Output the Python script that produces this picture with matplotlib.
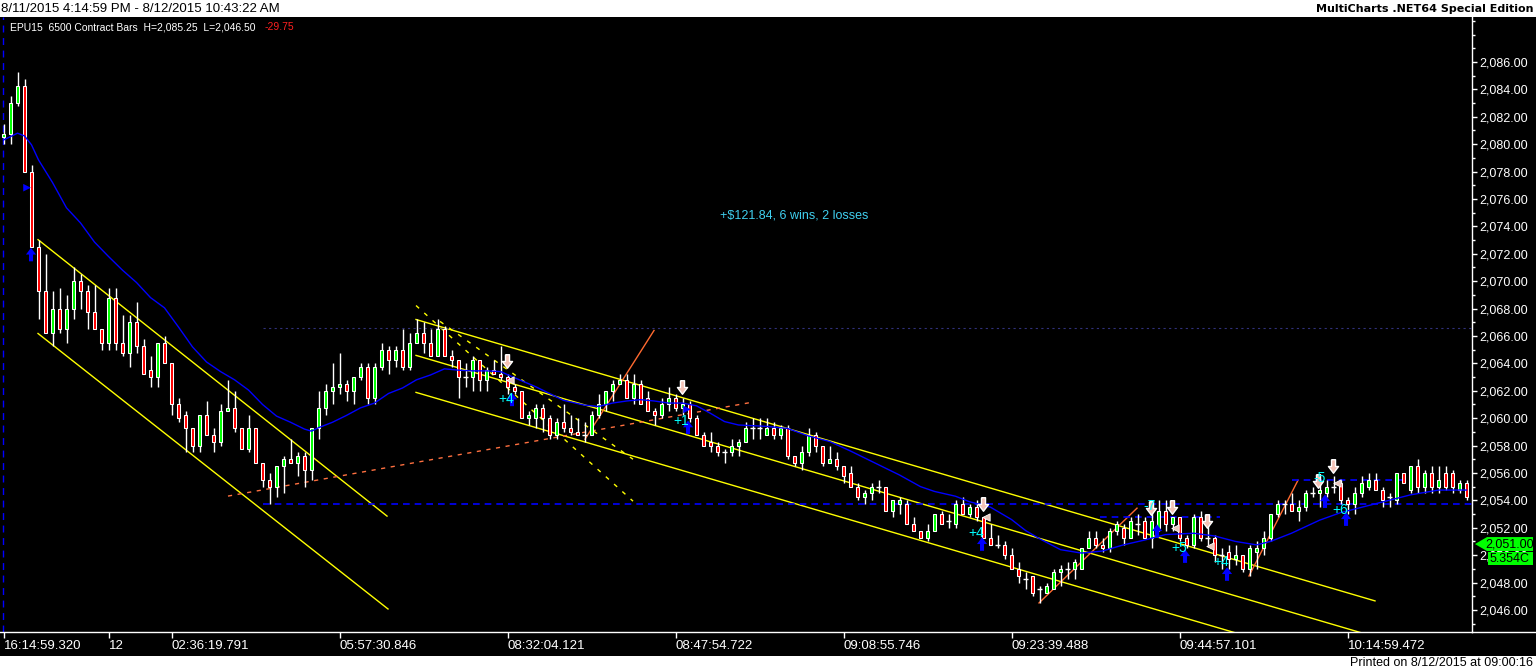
import numpy as np
import matplotlib
matplotlib.use("Agg")
import matplotlib.pyplot as plt
from matplotlib.path import Path
from matplotlib.patches import Polygon
from matplotlib.lines import Line2D
from matplotlib.ticker import FuncFormatter, MultipleLocator
from matplotlib.transforms import blended_transform_factory

plt.rcParams['font.family'] = ['Liberation Sans', 'DejaVu Sans']

# ---- bar data (EPU15, 6500 contract bars) ----
opens = [
    2080.5, 2080.75, 2083.0, 2084.25, 2078.0, 2072.5, 2069.25, 2066.25, 2068.0, 2066.5,
    2068.0, 2070.0, 2069.25, 2067.75, 2066.5, 2065.5, 2068.75, 2065.5, 2064.75, 2067.0,
    2065.25, 2063.5, 2063.0, 2065.5, 2064.0, 2061.0, 2060.25, 2059.25, 2058.0, 2060.25,
    2058.75, 2058.25, 2060.5, 2060.75, 2059.25, 2057.75, 2059.25, 2056.75, 2055.5, 2055.0,
    2056.5, 2057.0, 2056.75, 2057.25, 2056.25, 2059.25, 2060.75, 2062.0, 2062.25, 2062.5,
    2062.0, 2063.0, 2063.75, 2061.5, 2063.75, 2065.0, 2064.25, 2065.0, 2063.75, 2065.5,
    2066.25, 2065.5, 2064.5, 2066.5, 2064.5, 2064.25, 2063.0, 2063.0, 2064.25, 2062.75,
    2063.5, 2063.25, 2063.0, 2062.25, 2062.0, 2060.0, 2060.0, 2060.75, 2060.0, 2058.75,
    2059.75, 2059.25, 2059.0, 2058.75, 2058.75, 2060.25, 2061.0, 2062.0, 2062.5, 2062.75,
    2061.5, 2062.5, 2061.5, 2060.5, 2060.25, 2061.0, 2061.5, 2060.75, 2061.0, 2060.0,
    2058.75, 2058.25, 2058.0, 2057.5, 2057.5, 2058.0, 2058.25, 2059.25, 2059.25, 2058.75,
    2059.25, 2058.75, 2059.25, 2057.25, 2056.75, 2057.5, 2058.75, 2058.0, 2056.75, 2057.0,
    2056.5, 2056.0, 2055.0, 2054.25, 2054.5, 2055.0, 2055.0, 2053.25, 2053.75, 2053.75,
    2052.25, 2051.75, 2051.25, 2051.75, 2053.0, 2052.5, 2052.25, 2053.75, 2053.0, 2053.5,
    2052.75, 2051.25, 2050.75, 2050.75, 2050.0, 2049.0, 2048.25, 2048.5, 2047.5, 2047.25,
    2047.5, 2048.75, 2049.0, 2049.0, 2049.0, 2050.5, 2051.25, 2050.75, 2050.5, 2051.75,
    2052.0, 2051.25, 2052.25, 2052.5, 2051.25, 2052.0, 2053.25, 2052.25, 2052.75, 2051.25,
    2050.75, 2052.75, 2051.25, 2051.25, 2050.0, 2050.25, 2049.75, 2050.0, 2049.0, 2050.25,
    2050.5, 2051.25, 2053.0, 2053.75, 2053.75, 2053.25, 2053.5, 2054.5, 2054.5, 2054.5,
    2055.0, 2055.25, 2054.0, 2053.75, 2054.5, 2055.0, 2055.5, 2054.75, 2054.25, 2054.0,
    2056.0, 2054.75, 2056.5, 2055.0, 2056.0, 2055.0, 2056.0, 2056.0, 2054.75, 2055.25,
]
highs = [
    2081.5, 2083.5, 2085.25, 2084.75, 2078.5, 2073.0, 2072.0, 2069.25, 2069.5, 2069.0,
    2071.0, 2070.5, 2069.75, 2069.75, 2066.5, 2069.5, 2069.5, 2067.5, 2067.5, 2068.5,
    2065.75, 2064.5, 2065.5, 2066.0, 2064.0, 2061.5, 2060.5, 2059.25, 2060.25, 2061.25,
    2059.25, 2061.0, 2062.75, 2062.0, 2059.25, 2060.25, 2059.25, 2056.75, 2056.0, 2056.5,
    2057.25, 2058.5, 2057.5, 2057.5, 2059.25, 2062.0, 2062.5, 2064.0, 2064.75, 2062.75,
    2063.0, 2064.0, 2064.0, 2064.0, 2065.5, 2065.25, 2065.25, 2066.5, 2066.25, 2067.25,
    2067.0, 2066.5, 2067.25, 2066.75, 2065.0, 2064.25, 2064.0, 2064.5, 2064.25, 2063.75,
    2064.25, 2065.25, 2063.25, 2062.5, 2062.0, 2060.5, 2061.0, 2061.0, 2060.25, 2060.0,
    2061.0, 2060.25, 2060.0, 2059.75, 2060.5, 2061.75, 2062.0, 2062.75, 2063.25, 2063.25,
    2063.25, 2062.75, 2062.0, 2060.75, 2061.5, 2062.25, 2061.75, 2061.5, 2061.25, 2060.25,
    2059.0, 2059.0, 2058.25, 2057.75, 2058.5, 2058.5, 2059.75, 2060.0, 2060.0, 2060.0,
    2059.75, 2059.5, 2059.5, 2057.25, 2058.0, 2059.25, 2059.0, 2058.0, 2058.0, 2057.5,
    2056.5, 2056.5, 2055.25, 2054.75, 2055.25, 2055.5, 2055.0, 2054.0, 2054.25, 2054.0,
    2052.75, 2051.75, 2052.25, 2053.0, 2053.25, 2053.0, 2054.0, 2054.25, 2053.75, 2054.0,
    2052.75, 2052.25, 2051.5, 2051.0, 2050.5, 2049.5, 2048.75, 2048.5, 2047.75, 2048.0,
    2049.0, 2049.25, 2049.5, 2049.75, 2050.5, 2051.75, 2051.75, 2051.25, 2052.0, 2052.5,
    2052.25, 2052.75, 2053.0, 2052.75, 2053.25, 2054.0, 2054.0, 2052.75, 2052.75, 2051.5,
    2053.0, 2053.25, 2052.75, 2051.5, 2050.5, 2050.75, 2050.75, 2050.0, 2050.75, 2051.0,
    2051.75, 2053.0, 2054.0, 2054.0, 2054.5, 2054.0, 2054.75, 2055.0, 2055.25, 2055.5,
    2055.75, 2055.5, 2054.25, 2055.0, 2055.75, 2056.0, 2056.0, 2055.0, 2054.5, 2056.0,
    2056.0, 2056.5, 2057.0, 2056.25, 2056.5, 2056.5, 2056.5, 2056.25, 2055.5, 2055.5,
]
lows = [
    2080.0, 2080.0, 2082.75, 2078.0, 2072.5, 2067.25, 2066.25, 2065.25, 2066.25, 2065.5,
    2067.25, 2068.0, 2066.5, 2066.5, 2065.0, 2065.0, 2065.0, 2064.5, 2063.75, 2064.75,
    2063.25, 2062.25, 2062.25, 2064.0, 2060.25, 2059.75, 2057.5, 2057.5, 2057.5, 2058.75,
    2057.5, 2058.0, 2060.5, 2059.0, 2057.75, 2057.5, 2056.75, 2055.0, 2053.75, 2054.25,
    2054.5, 2056.75, 2055.75, 2055.0, 2055.5, 2058.5, 2060.25, 2061.0, 2061.75, 2061.25,
    2061.0, 2062.75, 2061.0, 2061.0, 2063.5, 2063.25, 2063.75, 2063.5, 2063.5, 2065.5,
    2064.75, 2064.5, 2064.5, 2064.5, 2063.75, 2061.5, 2062.25, 2062.0, 2062.0, 2062.0,
    2063.25, 2062.75, 2061.75, 2061.75, 2060.0, 2059.5, 2059.25, 2059.0, 2058.5, 2058.5,
    2059.0, 2058.75, 2058.75, 2058.25, 2058.75, 2060.0, 2060.5, 2061.25, 2062.5, 2061.5,
    2061.0, 2061.0, 2060.5, 2059.5, 2060.0, 2060.5, 2060.5, 2060.25, 2059.75, 2058.75,
    2058.0, 2057.5, 2057.25, 2056.75, 2057.25, 2057.25, 2058.25, 2058.5, 2058.5, 2058.75,
    2058.5, 2058.5, 2057.0, 2056.5, 2056.25, 2057.25, 2057.5, 2056.5, 2056.75, 2056.25,
    2055.25, 2055.0, 2054.0, 2053.75, 2054.0, 2054.5, 2053.25, 2052.75, 2053.0, 2052.25,
    2051.75, 2051.25, 2051.0, 2051.75, 2052.25, 2052.0, 2052.0, 2053.0, 2052.75, 2052.5,
    2051.25, 2050.75, 2050.5, 2049.75, 2049.0, 2048.0, 2047.5, 2047.0, 2046.5, 2047.25,
    2047.5, 2047.75, 2048.25, 2048.25, 2049.0, 2050.5, 2050.5, 2050.25, 2050.25, 2051.5,
    2050.75, 2051.25, 2051.5, 2051.25, 2050.5, 2051.75, 2051.75, 2051.75, 2051.0, 2050.5,
    2050.5, 2051.0, 2050.75, 2049.5, 2049.0, 2049.0, 2049.25, 2048.75, 2048.5, 2049.0,
    2050.0, 2051.0, 2052.75, 2053.0, 2053.25, 2052.5, 2053.25, 2054.25, 2053.5, 2054.25,
    2054.5, 2053.75, 2053.0, 2053.0, 2054.25, 2054.75, 2054.75, 2053.5, 2053.5, 2053.75,
    2055.25, 2054.5, 2054.5, 2054.5, 2054.5, 2054.5, 2054.75, 2054.5, 2054.5, 2054.0,
]
closes = [
    2080.75, 2083.0, 2084.25, 2078.0, 2072.5, 2069.25, 2066.25, 2068.0, 2066.5, 2068.0,
    2070.0, 2069.25, 2067.75, 2066.5, 2065.5, 2068.75, 2065.5, 2064.75, 2067.0, 2065.25,
    2063.25, 2063.0, 2065.5, 2064.0, 2061.0, 2060.0, 2059.25, 2058.0, 2060.25, 2058.75,
    2058.25, 2060.5, 2060.75, 2059.25, 2057.75, 2059.25, 2056.75, 2055.5, 2055.0, 2056.5,
    2057.0, 2056.75, 2057.25, 2056.25, 2059.25, 2060.75, 2062.0, 2062.25, 2062.5, 2062.0,
    2063.0, 2063.75, 2061.5, 2063.75, 2065.0, 2064.25, 2065.0, 2063.75, 2065.5, 2066.25,
    2065.5, 2064.5, 2066.5, 2064.5, 2064.25, 2063.0, 2063.0, 2064.25, 2062.75, 2063.5,
    2063.25, 2063.0, 2062.25, 2062.0, 2060.0, 2060.25, 2060.75, 2060.0, 2058.75, 2059.75,
    2059.25, 2059.0, 2058.75, 2058.75, 2060.25, 2061.0, 2062.0, 2062.5, 2062.75, 2061.5,
    2062.5, 2061.0, 2060.5, 2060.25, 2061.0, 2061.5, 2060.75, 2061.0, 2060.0, 2058.75,
    2058.0, 2058.0, 2057.5, 2057.5, 2058.0, 2058.25, 2059.25, 2059.25, 2059.25, 2059.25,
    2058.75, 2059.25, 2057.25, 2056.75, 2057.5, 2058.75, 2058.0, 2056.75, 2057.0, 2056.5,
    2055.75, 2055.0, 2054.25, 2054.5, 2055.0, 2055.0, 2053.25, 2054.0, 2054.0, 2052.25,
    2051.75, 2051.25, 2051.75, 2053.0, 2052.25, 2052.5, 2053.75, 2053.0, 2053.5, 2052.75,
    2051.25, 2050.75, 2050.75, 2050.0, 2049.0, 2048.5, 2048.25, 2047.25, 2047.5, 2047.75,
    2048.75, 2049.0, 2049.0, 2049.5, 2050.5, 2051.25, 2050.75, 2050.5, 2051.75, 2052.25,
    2051.25, 2052.5, 2052.25, 2051.25, 2052.5, 2053.25, 2052.25, 2052.75, 2051.25, 2050.75,
    2052.75, 2051.25, 2051.25, 2050.0, 2050.0, 2049.75, 2050.0, 2049.0, 2050.5, 2050.5,
    2051.25, 2053.0, 2053.75, 2053.75, 2053.25, 2053.5, 2054.5, 2054.5, 2054.75, 2055.0,
    2055.0, 2054.0, 2053.75, 2054.5, 2055.25, 2055.5, 2054.75, 2054.0, 2054.25, 2056.0,
    2055.25, 2056.5, 2055.0, 2056.0, 2055.0, 2055.5, 2055.0, 2055.0, 2055.25, 2054.25,
]

# blue moving average, sampled along the chart
ma_idx = [0, 2, 3, 4, 5, 7, 9, 11, 13, 15, 17, 19, 21, 23, 25, 27, 29, 31, 33, 35,
          37, 39, 41, 43, 44, 45, 47, 49, 51, 53, 55, 57, 59, 61, 63, 65, 67, 69, 71, 73,
          76, 78, 80, 83, 85, 87, 89, 91, 93, 95, 97, 99, 101, 103, 105, 109, 112, 115, 118, 121,
          123, 128, 131, 133, 136, 138, 141, 144, 146, 148, 151, 154, 157, 160, 163, 166, 170, 173, 176, 179,
          181, 184, 188, 191, 196, 201, 205, 209]
ma_val = [2080.3, 2080.8, 2080.6, 2079.95, 2078.85, 2077.2, 2075.35, 2074.25, 2072.85, 2071.8,
          2070.8, 2069.9, 2068.8, 2068.05, 2066.65, 2065.2, 2064.1, 2063.4, 2062.8, 2062.05,
          2061.0, 2060.15, 2059.7, 2059.2, 2059.05, 2059.3, 2059.7, 2060.2, 2060.75, 2061.1,
          2061.8, 2062.2, 2062.8, 2063.15, 2063.6, 2063.5, 2063.45, 2063.45, 2063.4, 2062.95,
          2062.3, 2061.8, 2061.3, 2060.95, 2060.85, 2061.1, 2061.25, 2061.35, 2061.25, 2061.1,
          2061.1, 2060.9, 2060.35, 2059.75, 2059.5, 2059.4, 2059.25, 2058.7, 2058.3, 2057.6,
          2057.1, 2055.85, 2055.0, 2054.65, 2054.3, 2053.9, 2053.5, 2052.6, 2051.8, 2051.2,
          2050.4, 2050.15, 2050.3, 2050.75, 2051.1, 2051.5, 2051.6, 2051.4, 2051.0, 2050.75,
          2051.0, 2051.6, 2052.55, 2053.1, 2053.75, 2054.4, 2054.75, 2054.75]

tick_pos = [0, 15, 24, 48, 72, 96, 120, 144, 168, 192]
tick_labels = ["16:14:59.320", "12", "02:36:19.791", "05:57:30.846", "08:32:04.121",
               "08:47:54.722", "09:08:55.746", "09:23:39.488", "09:44:57.101", "10:14:59.472"]

# drawings: (bar, price) end points
yellow_lines = [((4.93, 2073.03), (54.79, 2052.85)),
                ((4.93, 2066.18), (54.93, 2046.07)),
                ((58.93, 2067.20), (195.93, 2046.66)),
                ((58.93, 2064.58), (209.8, 2041.96)),
                ((58.93, 2061.88), (209.8, 2039.26))]
yellow_dashed = [((58.93, 2068.22), (89.93, 2053.94)),
                 ((62.36, 2067.06), (89.93, 2057.0))]
orange_dashed = [((32.07, 2054.31), (106.93, 2061.16))]
orange_lines = [((83.07, 2058.46), (92.93, 2066.4)),
                ((147.93, 2046.51), (161.93, 2053.43)),
                ((177.93, 2048.48), (184.93, 2055.47))]
blue_levels = [(2053.75, 37, 209.8), (2052.78, 156.6, 173.8), (2055.47, 184.1, 200.6)]
dim_levels = [(2066.55, 37, 209.8)]

# trade markers
buy_idx = [3.93, 72.64, 97.79, 139.79, 164.79, 168.79, 174.79, 188.79, 191.79]
buy_px = [2071.94, 2061.37, 2059.33, 2050.81, 2051.76, 2049.93, 2048.62, 2053.94, 2052.63]
sell_idx = [71.93, 96.93, 139.93, 163.93, 166.93, 171.93, 187.79, 189.93]
sell_px = [2064.14, 2062.25, 2053.72, 2053.43, 2053.50, 2052.48, 2055.40, 2056.49]
exit_idx = [72.36, 140.36, 167.36, 172.36, 190.5]
exit_px = [2062.76, 2052.78, 2051.97, 2050.66, 2055.25]
entry_idx = [3.36, 97.64]
entry_px = [2076.82, 2060.64]
trade_labels = ["+4", "+1", "+4", "-7", "+5", "+4", "-5", "+6"]
trade_idx = [71.79, 96.79, 138.93, 163.79, 167.93, 173.93, 188.07, 190.93]
trade_px = [2061.37, 2059.77, 2051.61, 2053.58, 2050.52, 2049.5, 2055.62, 2053.29]

W, H = 1536, 670
fig = plt.figure(figsize=(W / 100, H / 100), dpi=100, facecolor="black")
ax = fig.add_axes([0, 38 / H, 1472 / W, 615 / H])
ax.set_facecolor("black")

o = np.array(opens)
hi = np.array(highs)
lo = np.array(lows)
c = np.array(closes)
idx = np.arange(len(c))
up = c > o
dn = c < o
dj = c == o

ax.vlines(idx, lo, hi, color="white", lw=1, zorder=3)
ax.bar(idx[up], (c - o)[up], bottom=o[up], width=0.56, color="#00ff00",
       edgecolor="white", lw=0.75, zorder=4)
ax.bar(idx[dn], (o - c)[dn], bottom=c[dn], width=0.56, color="#ff0000",
       edgecolor="white", lw=0.75, zorder=4)
ax.hlines(c[dj], idx[dj] - 0.36, idx[dj] + 0.36, color="white", lw=1, zorder=4)

ax.plot(ma_idx, ma_val, color="#0000ff", lw=1.0, zorder=5)

for (a, b) in yellow_lines:
    ax.plot([a[0], b[0]], [a[1], b[1]], color="#ffff00", lw=1, zorder=2)
for (a, b) in yellow_dashed:
    ax.plot([a[0], b[0]], [a[1], b[1]], color="#ffff00", lw=1, ls=(0, (3, 5)), zorder=2)
for (a, b) in orange_dashed:
    ax.plot([a[0], b[0]], [a[1], b[1]], color="#ff7040", lw=1, ls=(0, (3, 4)), zorder=2)
for (a, b) in orange_lines:
    ax.plot([a[0], b[0]], [a[1], b[1]], color="#ff6a30", lw=1, zorder=2)
for (lvl, x0, x1) in blue_levels:
    ax.plot([x0, x1], [lvl, lvl], color="#0000ff", lw=1.2, ls=(0, (4, 3)), zorder=2)
for (lvl, x0, x1) in dim_levels:
    ax.plot([x0, x1], [lvl, lvl], color="#30307a", lw=0.8, ls=(0, (2, 3)), zorder=2)
ax.axvline(-0.07, color="#0000ff", lw=1, ls=(0, (5, 4)), zorder=2)

# arrow shaped markers
arrow_up = Path([(-0.3, -1), (0.3, -1), (0.3, 0), (0.75, 0), (0, 1), (-0.75, 0), (-0.3, 0), (-0.3, -1)])
arrow_dn = Path([(x, -y) for x, y in arrow_up.vertices])
ax.scatter(buy_idx, buy_px, marker=arrow_up, s=95, c="#0000ff", edgecolors="none", zorder=7)
ax.scatter(sell_idx, sell_px, marker=arrow_dn, s=95, c="#f4c2b6", edgecolors="white",
           linewidths=1, zorder=7)
ax.scatter(exit_idx, exit_px, marker="<", s=28, c="#e8c6bc", edgecolors="white",
           linewidths=0.6, zorder=7)
ax.scatter(entry_idx, entry_px, marker=">", s=30, c="#0000ff", edgecolors="none", zorder=7)
for lab, xi, pi in zip(trade_labels, trade_idx, trade_px):
    ax.text(xi, pi, lab, color="#00ffff", fontsize=10, ha="center", va="center", zorder=8)

ax.text(102.36, 2074.78, "+$121.84, 6 wins, 2 losses", color="#40d0f0", fontsize=9,
        ha="left", va="center")

ax.set_xlim(-0.5, (1472 - 3.5) / 7)
ax.set_ylim(2044.39, 2089.28)

# axes and ticks
for side in ("top", "left"):
    ax.spines[side].set_visible(False)
for side in ("right", "bottom"):
    ax.spines[side].set_color("white")
    ax.spines[side].set_linewidth(1)
ax.yaxis.tick_right()
ax.set_yticks(np.arange(2046, 2087, 2))
ax.yaxis.set_minor_locator(MultipleLocator(1))
ax.yaxis.set_major_formatter(FuncFormatter(lambda v, p: f"{v:,.2f}"))
ax.tick_params(axis="y", which="major", colors="white", length=3.5, width=1, pad=1.5, labelsize=9)
ax.tick_params(axis="y", which="minor", colors="white", length=2, width=1)
ax.set_xticks(tick_pos)
ax.set_xticklabels(tick_labels, ha="left")
ax.tick_params(axis="x", colors="white", length=4, width=1, pad=1.5, labelsize=9.5)

# last price tag on the axis
tr = blended_transform_factory(ax.transAxes, ax.transData)
fx = lambda px: px / 1472
tag = Polygon([(fx(1475), 2050.81), (fx(1487), 2051.32), (fx(1533), 2051.32),
               (fx(1533), 2050.30), (fx(1487), 2050.30)], closed=True,
              facecolor="#00ff00", edgecolor="none", transform=tr, clip_on=False, zorder=10)
ax.add_patch(tag)
ax.text(fx(1510), 2050.81, "2,051.00", color="black", fontsize=9, ha="center", va="center",
        transform=tr, clip_on=False, zorder=11)
box = Polygon([(fx(1488), 2050.23), (fx(1533), 2050.23), (fx(1533), 2049.28), (fx(1488), 2049.28)],
              closed=True, facecolor="#00ff00", edgecolor="none", transform=tr, clip_on=False, zorder=10)
ax.add_patch(box)
ax.text(fx(1510), 2049.75, "5.354C", color="black", fontsize=9, ha="center", va="center",
        transform=tr, clip_on=False, zorder=11)

# white title strip and footer strip
fig.patches.append(plt.Rectangle((0, 1 - 17 / H), 1, 17 / H, transform=fig.transFigure,
                                 facecolor="white", edgecolor="none", zorder=0))
fig.patches.append(plt.Rectangle((0, 0), 1, 14 / H, transform=fig.transFigure,
                                 facecolor="white", edgecolor="none", zorder=0))
fig.add_artist(Line2D([1472 / W, 1], [38 / H, 38 / H], color="white", lw=1))

fig.text(1 / W, 1 - 9 / H, "8/11/2015 4:14:59 PM - 8/12/2015 10:43:22 AM", color="black",
         fontsize=9.5, ha="left", va="center")
fig.text(1533 / W, 1 - 9 / H, "MultiCharts .NET64 Special Edition", color="black",
         fontsize=8, fontweight="bold", family="DejaVu Sans", ha="right", va="center")
fig.text(10 / W, 1 - 27 / H, "EPU15  6500 Contract Bars  H=2,085.25  L=2,046.50", color="white",
         fontsize=7.5, ha="left", va="center")
fig.text(265 / W, 1 - 27 / H, "-29.75", color="#ff2020", fontsize=7.5, ha="left", va="center")
fig.text(1533 / W, 1 - 663 / H, "Printed on 8/12/2015 at 09:00:16", color="black",
         fontsize=9, ha="right", va="center")

fig.savefig("out.png", dpi=100, facecolor="black")
